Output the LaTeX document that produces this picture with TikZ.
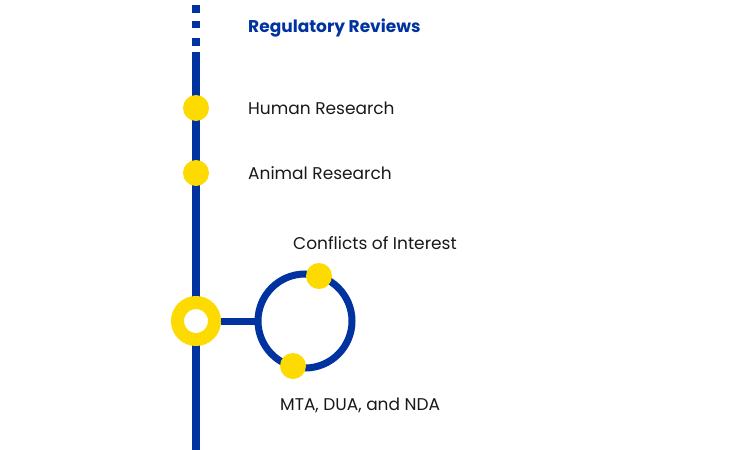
\documentclass[tikz,border=0pt]{standalone}
\usepackage{fontspec}
\setmainfont{Poppins}
\usepackage{tikz}
\usetikzlibrary{positioning}
\definecolor{ruleBlue}{HTML}{0033A0}
\definecolor{dotYellow}{HTML}{FEDB00}
\tikzset{
  track/.style={draw=ruleBlue,line width=8pt},
  stop/.style={circle,fill=dotYellow,minimum size=26pt,inner sep=0pt},
  label/.style={anchor=west,inner sep=0pt,font=\fontsize{17}{19}\selectfont,text=black!90},
}
\begin{document}
\begin{tikzpicture}[x=1pt,y=-1pt]
\useasboundingbox[fill=white] (0,0) rectangle (750,450);
% main line
\draw[track] (196,5) -- (196,13);
\draw[track] (196,21) -- (196,28);
\draw[track] (196,38) -- (196,46);
\coordinate (top) at (196,52);
\coordinate (bottom) at (196,450);
\draw[track] (top) -- (bottom);
% stops
\node[stop] (human) at (196,108) {};
\node[stop] (animal) at (196,173) {};
% loop
\node[circle,draw=ruleBlue,line width=7pt,minimum size=94pt,inner sep=0pt] (loop) at (305,321) {};
\node[circle,draw=dotYellow,fill=white,line width=13pt,minimum size=37pt,inner sep=0pt] (hub) at (196,321) {};
\draw[draw=ruleBlue,line width=7pt] (hub.east) -- (loop.west);
\node[stop] (coi) at (319,276) {};
\node[stop] (mta) at (293,366) {};
% texts
\node[label,font=\fontsize{17}{19}\selectfont\bfseries,text=ruleBlue] (title) at (248,28) {Regulatory Reviews};
\node[label] (humanText) at (248,108) {Human Research};
\node[label] (animalText) at (248,173) {Animal Research};
\node[label] (coiText) at (293,243) {Conflicts of Interest};
\node[label] (mtaText) at (280,405) {MTA, DUA, and NDA};
\end{tikzpicture}
\end{document}
